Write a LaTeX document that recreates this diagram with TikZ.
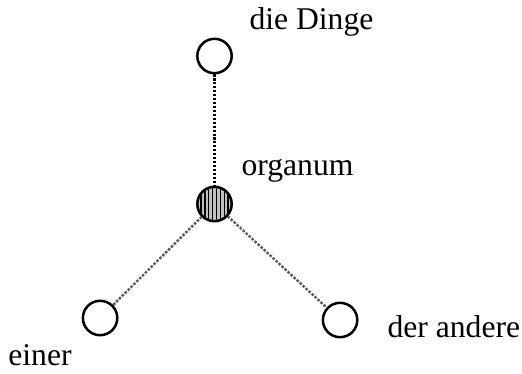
\documentclass[tikz,border=0pt]{standalone}
\usepackage{fontspec}
\setmainfont{Liberation Serif}
\usetikzlibrary{positioning, patterns.meta}

\begin{document}
\begin{tikzpicture}[
		% --- STILE ---
		knoten/.style = {draw, circle, line width=1.8pt, minimum size=0.86cm, inner sep=0pt, fill=white},
		organ_knoten/.style = {knoten, preaction={fill=gray!50}, pattern={Lines[angle=90, distance=2.8pt, line width=1.2pt]}},
		beschriftung/.style = {inner sep=0pt, anchor=base west, font=\fontsize{22.5}{27}\selectfont},
		senkrecht/.style = {line width=2.4pt, dash pattern=on 1.5pt off 1.3pt},
		schraeg/.style = {line width=1.7pt, gray!70!black, dash pattern=on 1.8pt off 1.1pt},
		node distance=1cm, on grid
		]
		
		\useasboundingbox (-5.3625,-4.225) rectangle (7.6875,5.1);
		
		% --- KNOTEN ---
		\node [organ_knoten] (organum) at (0,0) {};
		\node [knoten, above=3.7cm of organum] (dinge) {};
		\node [knoten, below left=2.85cm and 2.86cm of organum] (einer) {};
		\node [knoten, below right=2.9cm and 3.14cm of organum] (andere) {};
		
		% --- VERBINDUNGEN ---
		\draw [senkrecht] (dinge) -- (organum);
		\draw [schraeg] (organum) -- (einer);
		\draw [schraeg] (organum) -- (andere);
		
		% --- BESCHRIFTUNGEN ---
		\node [beschriftung] (l_dinge) at ([shift={(0.87,0.65)}]dinge.center) {die Dinge};
		\node [beschriftung] (l_organum) at ([shift={(0.67,0.7)}]organum.center) {organum};
		\node [beschriftung] (l_einer) at ([shift={(-2.3,-1.18)}]einer.center) {einer};
		\node [beschriftung] (l_andere) at ([shift={(1.18,-0.43)}]andere.center) {der andere};
		
	\end{tikzpicture}
\end{document}
